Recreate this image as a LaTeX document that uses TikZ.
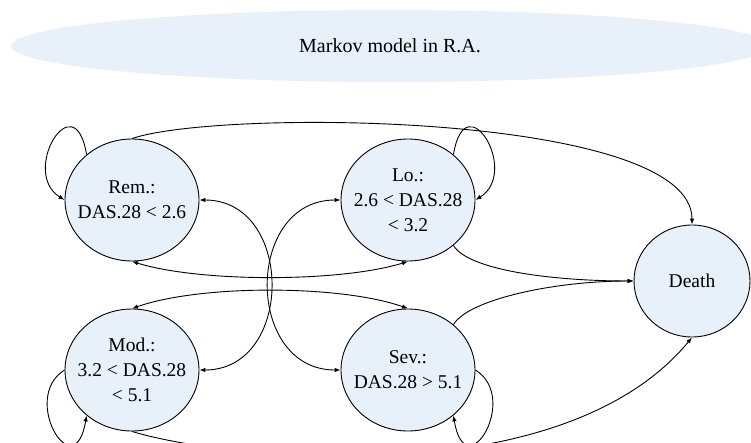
\documentclass[tikz,border=0pt]{standalone}
\usepackage{fontspec}
\setmainfont{Liberation Serif}
\usepackage{tikz}
\usetikzlibrary{shapes.geometric, arrows.meta}
\definecolor{paleblue}{HTML}{E8F0FA}
\tikzstyle{stage} = [ellipse, draw, fill=paleblue, line width=0.9pt, minimum width=134pt, minimum height=122pt, inner xsep=-12pt, inner ysep=0pt, align=center, font=\fontsize{19.5}{25}\selectfont]
\tikzstyle{banner} = [ellipse, fill=paleblue, minimum width=758pt, minimum height=72pt, inner sep=0pt, font=\fontsize{20}{25}\selectfont]
\tikzstyle{trans} = [line width=0.9pt, >={Latex[length=6pt,width=4.5pt]}]

\begin{document}
\begin{tikzpicture}[x=1pt, y=1pt]
        \useasboundingbox (0,0) rectangle (751,442);
        \node (title) [banner] at (390,396) {Markov model in R.A.};
        \node (rem) [stage] at (132,242) {Rem.:\\DAS.28 < 2.6};
        \node (lo) [stage] at (408,242) {Lo.:\\2.6 < DAS.28\\< 3.2};
        \node (mod) [stage] at (132,72) {Mod.:\\3.2 < DAS.28\\< 5.1};
        \node (sev) [stage] at (408,72) {Sev.:\\DAS.28 > 5.1};
        \node (death) [stage, minimum width=116pt, minimum height=112pt] at (692,161) {Death};
        % loops
        \draw [trans, ->] (rem.135) .. controls +(-12,73) and +(-45,28) .. (rem.west);
        \draw [trans, ->] (lo.45) .. controls +(12,73) and +(45,28) .. (lo.east);
        \draw [trans, ->] (mod.west) .. controls +(-45,-28) and +(-12,-73) .. (mod.-135);
        \draw [trans, ->] (sev.east) .. controls +(45,-28) and +(12,-73) .. (sev.-45);
        % to death
        \draw [trans, ->] (rem.north) .. controls +(88,30) and +(0,112) .. (death.north);
        \draw [trans, ->] (lo.-45) .. controls +(15,-25) and +(-80,0) .. (death.west);
        \draw [trans, ->] (sev.45) .. controls +(15,25) and +(-80,0) .. (death.west);
        \draw [trans, ->] (mod.south) .. controls +(88,-27) and +(-132,-160) .. (death.south);
        % between the four stages
        \draw [trans, <->] (rem.south) .. controls +(68,-21) and +(-68,-21) .. (lo.south);
        \draw [trans, <->] (mod.north) .. controls +(68,24) and +(-68,24) .. (sev.north);
        \draw [trans, <->] (rem.east) .. controls +(95,0) and +(95,0) .. (mod.east);
        \draw [trans, <->] (lo.west) .. controls +(-96,0) and +(-96,0) .. (sev.west);
    \end{tikzpicture}
\end{document}
